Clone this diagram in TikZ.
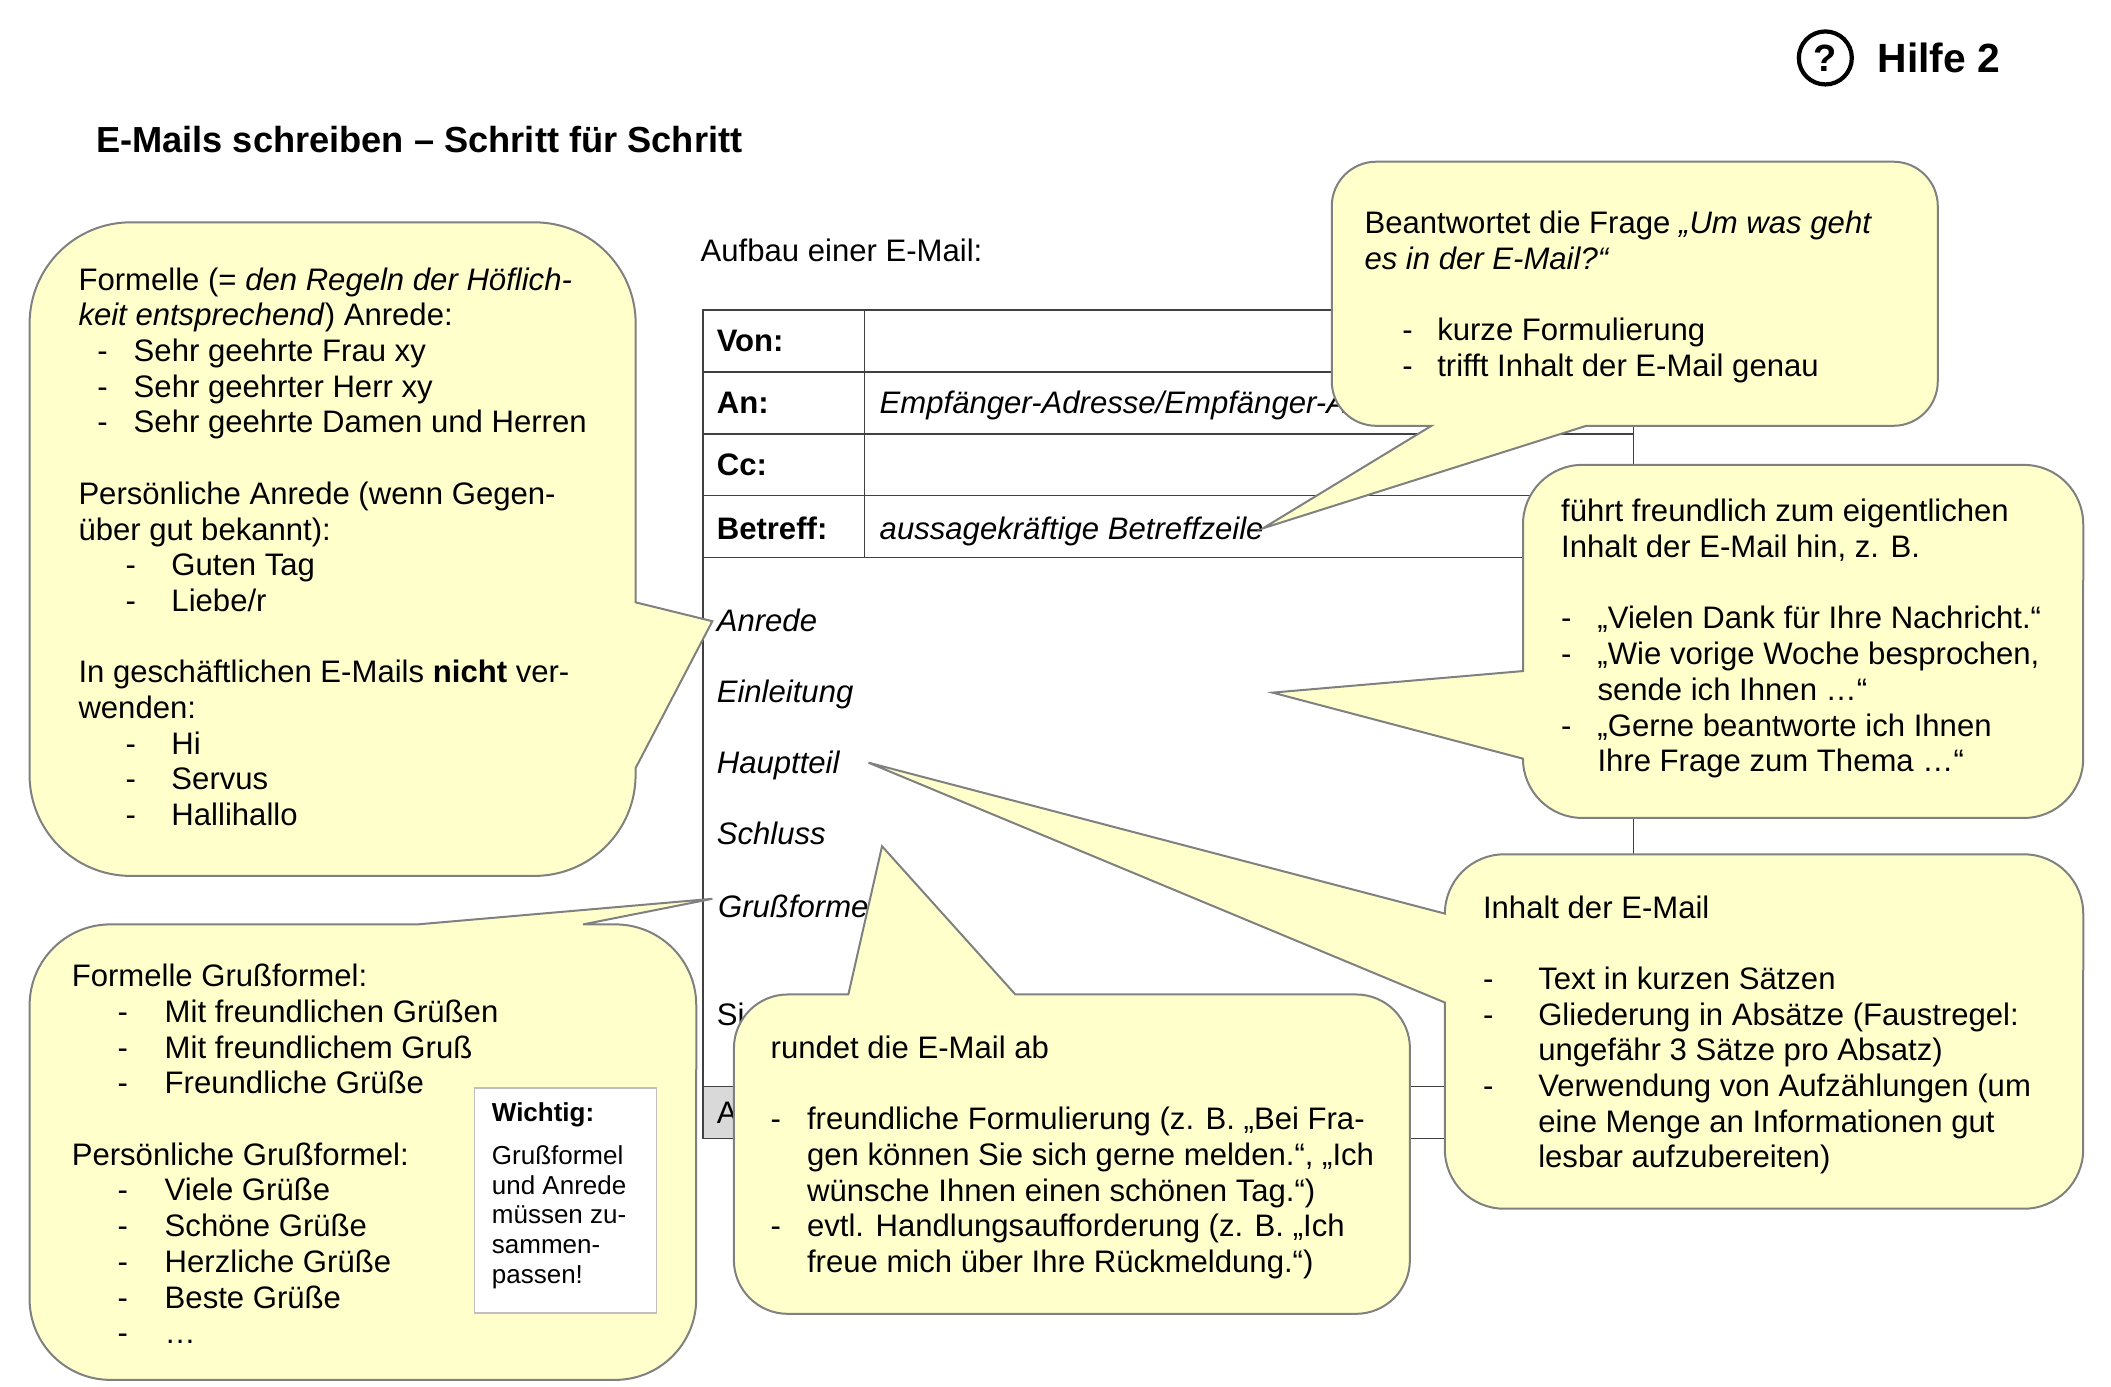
\documentclass[tikz,border=0pt]{standalone}
\usepackage{fontspec}
\setmainfont{Liberation Sans}
\newdimen\ud \ud=0.67375pt
\newcommand{\firstline}{\rule{0pt}{20\ud}}
\newcommand{\dashitem}[3]{\hspace*{#1\ud}\makebox[#2\ud][l]{-}#3}
\newcommand{\contitem}[2]{\hspace*{#1\ud}#2}
\definecolor{bubblefill}{HTML}{FFFFCC}
\definecolor{bubbleline}{HTML}{808080}
\definecolor{tableline}{HTML}{404040}
\definecolor{cellgray}{HTML}{D9D9D9}
\tikzset{
  bubble/.style={fill=bubblefill,draw=bubbleline,line width=1pt,line join=miter},
  tabletext/.style={anchor=base west,inner sep=0pt,font=\fontsize{15.55}{17.85}\selectfont},
  tablelabel/.style={tabletext,font=\fontsize{15.55}{17.85}\selectfont\bfseries},
  bubbletext/.style={anchor=north west,inner sep=0pt,align=left,font=\fontsize{15.55}{17.85}\selectfont},
  notetext/.style={anchor=north west,inner sep=0pt,align=left,font=\fontsize{13}{14.8}\selectfont},
}
\begin{document}
\begin{tikzpicture}[x=0.6733pt,y=-0.67375pt]
\useasboundingbox (0,0) rectangle (1567.65,1028.6);
% header
\node[draw=black,line width=2.1pt,circle,minimum size=26.5pt,inner sep=0pt,font=\fontsize{19}{20}\selectfont\bfseries] (helpicon) at (1355.5,43) {?};
\node[anchor=base west,inner sep=0pt,font=\fontsize{20.4}{24}\selectfont\bfseries] (hilfe) at (1394,54) {Hilfe 2};
\node[anchor=base west,inner sep=0pt,font=\fontsize{18.12}{22}\selectfont\bfseries] (titel) at (71,113) {E-Mails schreiben – Schritt für Schritt};
\node[tabletext] (aufbau) at (520,194) {Aufbau einer E-Mail:};
% table
\fill[cellgray] (522,806) rectangle (642,845);
\draw[tableline,line width=0.6pt] (522,230) rectangle (1213,845);
\foreach \yy in {276,322,368,414,806} \draw[tableline,line width=0.6pt] (522,\yy) -- (1213,\yy);
\draw[tableline,line width=0.6pt] (642,230) -- (642,414);
\draw[tableline,line width=0.6pt] (642,806) -- (642,845);
\node[tablelabel] (von) at (532,261) {Von:};
\node[tablelabel] (an) at (532,307) {An:};
\node[tablelabel] (cc) at (532,353) {Cc:};
\node[tablelabel] (betreff) at (532,400) {Betreff:};
\node[tabletext] (antext) at (653,307) {\itshape Empfänger-Adresse/Empfänger-A};
\node[tabletext] (betrefftext) at (653,400) {\itshape aussagekräftige Betreffzeile};
\node[tabletext] (anrede) at (532,469) {\itshape Anrede};
\node[tabletext] (einleitung) at (532,521) {\itshape Einleitung};
\node[tabletext] (hauptteil) at (532,574) {\itshape Hauptteil};
\node[tabletext] (schluss) at (532,627) {\itshape Schluss};
\node[tabletext] (gruss) at (533,681) {\itshape Grußformel};
\node[tabletext] (si) at (532,761) {Si};
\node[tabletext] (anhang) at (532,834) {A};
% bubbles
\draw[bubble] (22,240) arc[start angle=180,end angle=90,radius=50.53pt] -- (397,165) arc[start angle=90,end angle=0,radius=50.53pt] -- (472,447) -- (529,461) -- (472,570) -- (472,575) arc[start angle=0,end angle=-90,radius=50.53pt] -- (97,650) arc[start angle=-90,end angle=-180,radius=50.53pt] -- cycle;
\draw[bubble] (22,746) arc[start angle=180,end angle=90,radius=40.43pt] -- (310,686) -- (529,667) -- (433,686) -- (457,686) arc[start angle=90,end angle=0,radius=40.43pt] -- (517,964) arc[start angle=0,end angle=-90,radius=40.43pt] -- (82,1024) arc[start angle=-90,end angle=-180,radius=40.43pt] -- cycle;
\draw[bubble] (989,153) arc[start angle=180,end angle=90,radius=22.23pt] -- (1406,120) arc[start angle=90,end angle=0,radius=22.23pt] -- (1439,283) arc[start angle=0,end angle=-90,radius=22.23pt] -- (1178,316) -- (938,392) -- (1063,316) -- (1022,316) arc[start angle=-90,end angle=-180,radius=22.23pt] -- cycle;
\draw[bubble] (1131,389) arc[start angle=180,end angle=90,radius=29.65pt] -- (1503,345) arc[start angle=90,end angle=0,radius=29.65pt] -- (1547,563) arc[start angle=0,end angle=-90,radius=29.65pt] -- (1175,607) arc[start angle=-90,end angle=-180,radius=29.65pt] -- (945,514) -- (1131,498) -- cycle;
\draw[bubble] (1073,678) arc[start angle=180,end angle=90,radius=29.65pt] -- (1503,634) arc[start angle=90,end angle=0,radius=29.65pt] -- (1547,853) arc[start angle=0,end angle=-90,radius=29.65pt] -- (1117,897) arc[start angle=-90,end angle=-180,radius=29.65pt] -- (1073,744) -- (645,566) -- cycle;
\draw[bubble] (545,778) arc[start angle=180,end angle=90,radius=26.95pt] -- (630,738) -- (655,628) -- (754,738) -- (1007,738) arc[start angle=90,end angle=0,radius=26.95pt] -- (1047,935) arc[start angle=0,end angle=-90,radius=26.95pt] -- (585,975) arc[start angle=-90,end angle=-180,radius=26.95pt] -- cycle;
% note
\node[fill=white,draw=black!25,line width=0.6pt,minimum width=91pt,minimum height=112.5pt,inner sep=0pt,anchor=north west] (notebox) at (352,807) {};
% bubble texts
\node[bubbletext] (t1) at (58,195) {\firstline Formelle (= \emph{den Regeln der Höflich-}\\
\emph{keit entsprechend}) Anrede:\\
\dashitem{14}{27}{Sehr geehrte Frau xy}\\
\dashitem{14}{27}{Sehr geehrter Herr xy}\\
\dashitem{14}{27}{Sehr geehrte Damen und Herren}\\
\mbox{}\\
Persönliche Anrede (wenn Gegen-\\
über gut bekannt):\\
\dashitem{35}{34}{Guten Tag}\\
\dashitem{35}{34}{Liebe/r}\\
\mbox{}\\
In geschäftlichen E-Mails \textbf{nicht} ver-\\
wenden:\\
\dashitem{35}{34}{Hi}\\
\dashitem{35}{34}{Servus}\\
\dashitem{35}{34}{Hallihallo}};
\node[bubbletext] (t2) at (53,712) {\firstline Formelle Grußformel:\\
\dashitem{34}{35}{Mit freundlichen Grüßen}\\
\dashitem{34}{35}{Mit freundlichem Gruß}\\
\dashitem{34}{35}{Freundliche Grüße}\\
\mbox{}\\
Persönliche Grußformel:\\
\dashitem{34}{35}{Viele Grüße}\\
\dashitem{34}{35}{Schöne Grüße}\\
\dashitem{34}{35}{Herzliche Grüße}\\
\dashitem{34}{35}{Beste Grüße}\\
\dashitem{34}{35}{…}};
\node[bubbletext] (t3) at (1013,153) {\firstline Beantwortet die Frage \emph{„Um was geht}\\
\emph{es in der E-Mail?“}\\
\mbox{}\\
\dashitem{28}{26}{kurze Formulierung}\\
\dashitem{28}{26}{trifft Inhalt der E-Mail genau}};
\node[bubbletext] (t4) at (1159,367) {\firstline führt freundlich zum eigentlichen\\
Inhalt der E-Mail hin, z. B.\\
\mbox{}\\
\dashitem{0}{27}{„Vielen Dank für Ihre Nachricht.“}\\
\dashitem{0}{27}{„Wie vorige Woche besprochen,}\\
\contitem{27}{sende ich Ihnen …“}\\
\dashitem{0}{27}{„Gerne beantworte ich Ihnen}\\
\contitem{27}{Ihre Frage zum Thema …“}};
\node[bubbletext] (t5) at (1101,661) {\firstline Inhalt der E-Mail\\
\mbox{}\\
\dashitem{0}{41}{Text in kurzen Sätzen}\\
\dashitem{0}{41}{Gliederung in Absätze (Faustregel:}\\
\contitem{41}{ungefähr 3 Sätze pro Absatz)}\\
\dashitem{0}{41}{Verwendung von Aufzählungen (um}\\
\contitem{41}{eine Menge an Informationen gut}\\
\contitem{41}{lesbar aufzubereiten)}};
\node[bubbletext] (t6) at (572,765) {\firstline rundet die E-Mail ab\\
\mbox{}\\
\dashitem{0}{27}{freundliche Formulierung (z. B. „Bei Fra-}\\
\contitem{27}{gen können Sie sich gerne melden.“, „Ich}\\
\contitem{27}{wünsche Ihnen einen schönen Tag.“)}\\
\dashitem{0}{27}{evtl. Handlungsaufforderung (z. B. „Ich}\\
\contitem{27}{freue mich über Ihre Rückmeldung.“)}};
\node[anchor=base west,inner sep=0pt,font=\fontsize{13}{14.8}\selectfont\bfseries] (wichtig) at (365,832) {Wichtig:};
\node[notetext] (notetxt) at (365,844) {\rule{0pt}{20\ud}Grußformel\\und Anrede\\müssen zu-\\sammen-\\passen!};
\end{tikzpicture}
\end{document}
